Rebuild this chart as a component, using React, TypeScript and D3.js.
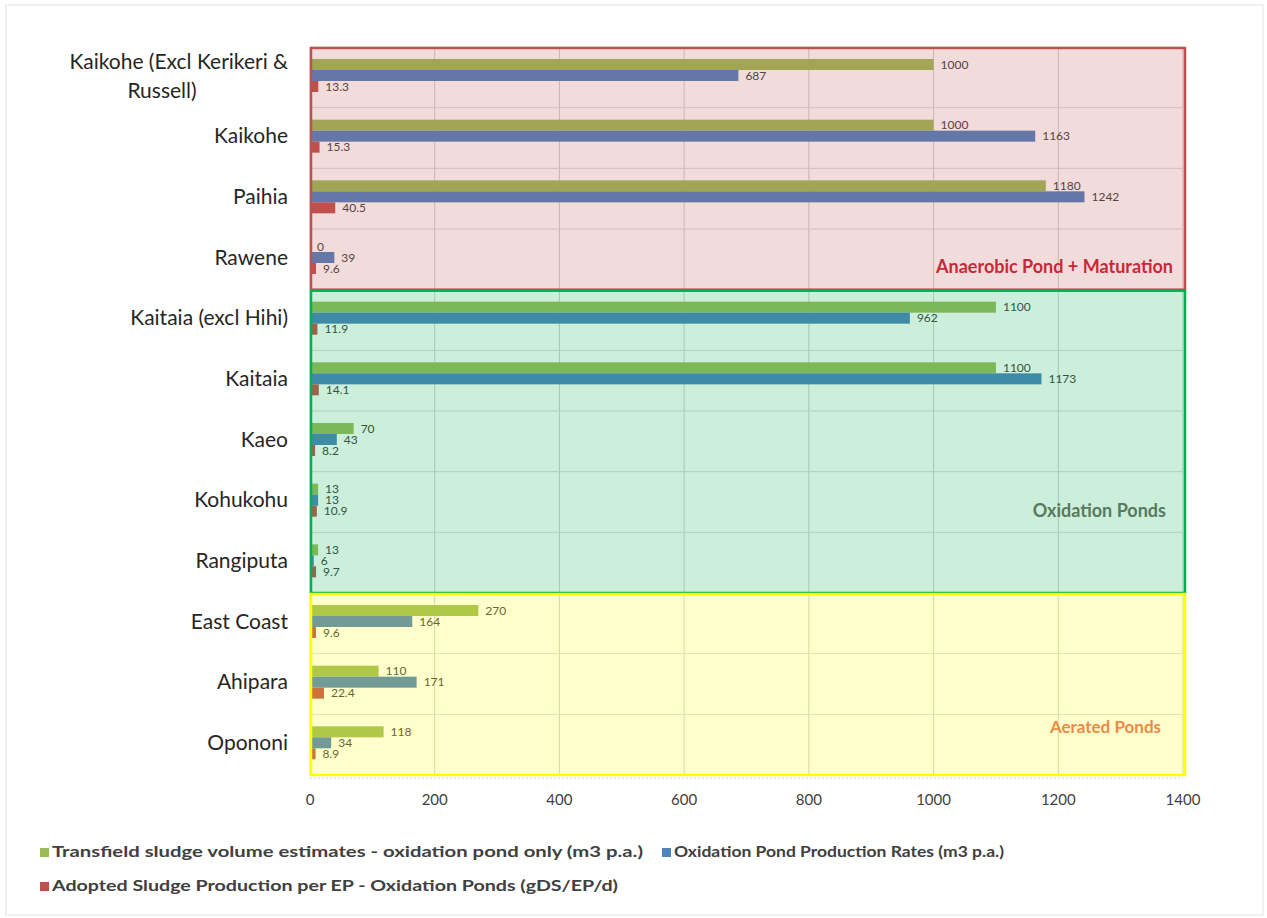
import { useMemo } from 'react'
import * as d3 from 'd3'

const WIDTH = 1267
const HEIGHT = 918
const MARGIN = { top: 47, right: 84, bottom: 143, left: 310 }

const categories = [
  'Kaikohe (Excl Kerikeri & Russell)',
  'Kaikohe',
  'Paihia',
  'Rawene',
  'Kaitaia (excl Hihi)',
  'Kaitaia',
  'Kaeo',
  'Kohukohu',
  'Rangiputa',
  'East Coast',
  'Ahipara',
  'Opononi',
]

const transfield = [1000, 1000, 1180, 0, 1100, 1100, 70, 13, 13, 270, 110, 118]
const productionRates = [687, 1163, 1242, 39, 962, 1173, 43, 13, 6, 164, 171, 34]
const sludgePerEP = [13.3, 15.3, 40.5, 9.6, 11.9, 14.1, 8.2, 10.9, 9.7, 9.6, 22.4, 8.9]

const seriesNames = [
  'Transfield sludge volume estimates - oxidation pond only (m3 p.a.)',
  'Oxidation Pond Production Rates (m3 p.a.)',
  'Adopted Sludge Production per EP - Oxidation Ponds (gDS/EP/d)',
]
const seriesValues = [transfield, productionRates, sludgePerEP]
const seriesColors = ['#9bbb59', '#4f81bd', '#c0504d']

const xTicks = [0, 200, 400, 600, 800, 1000, 1200, 1400]

// shaded groups over the bars
const zones = [
  { name: 'Anaerobic Pond + Maturation', from: 0, to: 3, color: '#c0504d', text: '#c8283a', dy: -21, size: 18, inset: 10 },
  { name: 'Oxidation Ponds', from: 4, to: 8, color: '#00b050', text: '#587a60', dy: 41, size: 18, inset: 17, labelAt: 7 },
  { name: 'Aerated Ponds', from: 9, to: 11, color: '#ffff00', text: '#ec8a46', dy: -46, size: 17, inset: 22 },
]

const FONT = 'Lato, "Open Sans", "Liberation Sans", sans-serif'

const App = () => {
  const boundsWidth = WIDTH - MARGIN.left - MARGIN.right
  const boundsHeight = HEIGHT - MARGIN.top - MARGIN.bottom

  const xScale = useMemo(
    () => d3.scaleLinear().domain([0, 1400]).range([0, boundsWidth]),
    [boundsWidth]
  )
  const yScale = useMemo(
    () => d3.scaleBand().domain(categories).range([0, boundsHeight]).padding(0),
    [boundsHeight]
  )
  const bw = yScale.bandwidth()
  const inner = d3.scaleBand().domain(['0', '1', '2']).range([12, 45]).padding(0)

  const bars = categories.map((cat, ci) =>
    seriesValues.map((vals, si) => {
      const v = vals[ci]
      const y = (yScale(cat) ?? 0) + (inner(String(si)) ?? 0)
      return (
        <g key={`${ci}-${si}`}>
          <rect x={0} y={y} width={xScale(v)} height={inner.bandwidth()} fill={seriesColors[si]} />
          <text
            x={xScale(v) + 7}
            y={y + inner.bandwidth() / 2 + 1}
            fontSize={12}
            fill="#404040"
            dominantBaseline="middle"
            fontFamily={FONT}
          >
            {v}
          </text>
        </g>
      )
    })
  )

  const catLabels = categories.map((cat) => {
    const cy = (yScale(cat) ?? 0) + bw / 2
    if (cat.length > 22) {
      return (
        <g key={cat}>
          <text x={-22} y={cy - 14} textAnchor="end" dominantBaseline="middle" fontSize={21} fill="#262626" fontFamily={FONT}>
            Kaikohe (Excl Kerikeri &amp;
          </text>
          <text x={-22 - 126} y={cy + 15} textAnchor="middle" dominantBaseline="middle" fontSize={21} fill="#262626" fontFamily={FONT}>
            Russell)
          </text>
        </g>
      )
    }
    return (
      <text key={cat} x={-22} y={cy} textAnchor="end" dominantBaseline="middle" fontSize={21} fill="#262626" fontFamily={FONT}>
        {cat}
      </text>
    )
  })

  return (
    <>
      <style>{`body{margin:0}`}</style>
      <svg width={WIDTH} height={HEIGHT} style={{ display: 'block', background: '#fff' }}>
        <rect x={6} y={5} width={1257} height={910} fill="none" stroke="#e4e4e4" />
        <g transform={`translate(${MARGIN.left},${MARGIN.top})`}>
          {/* gridlines */}
          {xTicks.map((t) => (
            <line key={t} x1={xScale(t)} x2={xScale(t)} y1={0} y2={boundsHeight} stroke="#cfcfcf" />
          ))}
          {categories.map((cat) => (
            <line key={cat} x1={0} x2={boundsWidth} y1={yScale(cat)} y2={yScale(cat)} stroke="#d9d9d9" />
          ))}
          <line x1={0} x2={boundsWidth} y1={boundsHeight + 3} y2={boundsHeight + 3} stroke="#d0d0d0" strokeDasharray="2,2" />

          {bars}

          {zones.map((z) => {
            const y0 = yScale(categories[z.from]) ?? 0
            const y1 = (yScale(categories[z.to]) ?? 0) + bw
            return (
              <rect
                key={z.name}
                x={1}
                y={y0 + 1}
                width={boundsWidth + 1}
                height={y1 - y0 - 1}
                fill={z.color}
                fillOpacity={0.2}
                stroke={z.color}
                strokeWidth={2.5}
              />
            )
          })}
          {zones.map((z) => {
            const idx = z.labelAt ?? z.to
            const yb = (yScale(categories[idx]) ?? 0) + (z.labelAt !== undefined ? 0 : bw)
            return (
              <text
                key={z.name}
                x={boundsWidth - z.inset}
                y={yb + z.dy}
                textAnchor="end"
                dominantBaseline="middle"
                fontSize={z.size}
                fontWeight="bold"
                fill={z.text}
                fontFamily={FONT}
              >
                {z.name}
              </text>
            )
          })}

          {catLabels}

          {xTicks.map((t) => (
            <text
              key={t}
              x={xScale(t)}
              y={boundsHeight + 26}
              textAnchor="middle"
              dominantBaseline="middle"
              fontSize={15}
              fill="#404040"
              fontFamily={FONT}
            >
              {t}
            </text>
          ))}
        </g>

        {/* legend */}
        {[
          { x: 40, y: 853, w: 591 },
          { x: 662, y: 853, w: 330 },
          { x: 40, y: 887, w: 566 },
        ].map((pos, i) => (
          <g key={i}>
            <rect x={pos.x} y={pos.y - 5} width={9} height={9} fill={seriesColors[i]} />
            <text
              x={pos.x + 12}
              y={pos.y}
              dominantBaseline="middle"
              fontSize={16}
              fontWeight="bold"
              fill="#404040"
              fontFamily={FONT}
              textLength={pos.w}
              lengthAdjust="spacingAndGlyphs"
            >
              {seriesNames[i]}
            </text>
          </g>
        ))}
      </svg>
    </>
  )
}

export default App
